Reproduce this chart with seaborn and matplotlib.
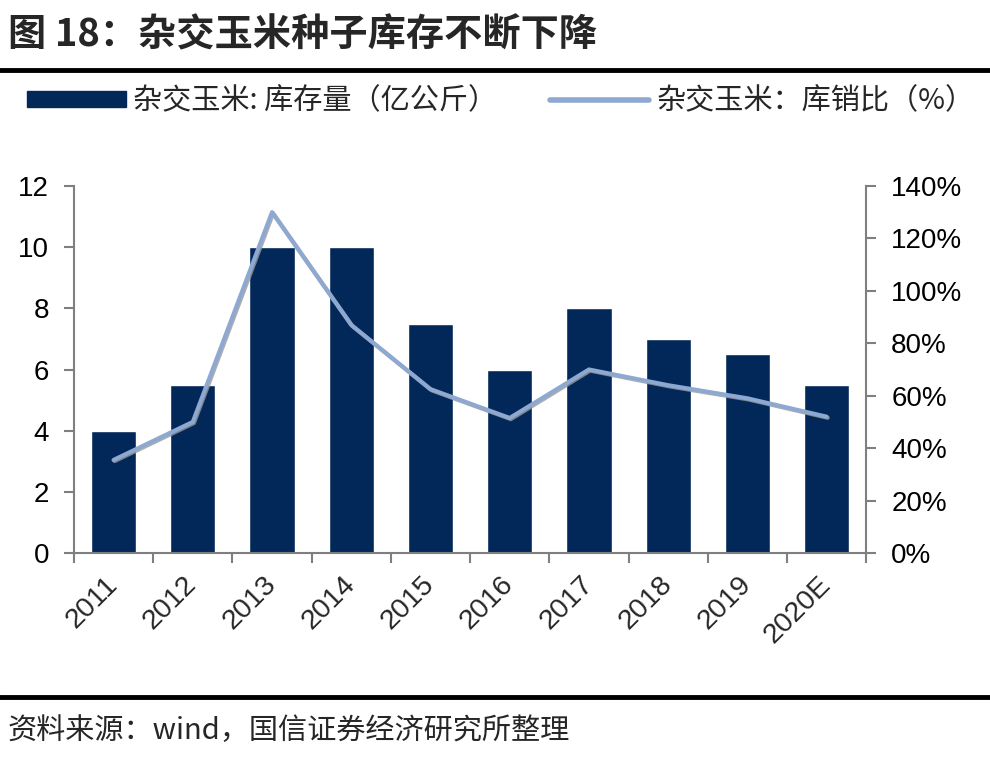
import pandas as pd
import seaborn as sns
import matplotlib.pyplot as plt
import matplotlib.patheffects as pe
from matplotlib.patches import Patch
from matplotlib.lines import Line2D

# values
years = ["2011", "2012", "2013", "2014", "2015", "2016", "2017", "2018", "2019", "2020E"]
stock = [4.0, 5.5, 10.0, 10.0, 7.5, 6.0, 8.0, 7.0, 6.5, 5.5]          # 亿公斤
ratio = [35.5, 50.0, 130.0, 87.0, 62.5, 51.5, 70.0, 64.0, 59.0, 52.0]  # %

left_ticks = [0, 2, 4, 6, 8, 10, 12]
right_ticks = [0, 20, 40, 60, 80, 100, 120, 140]

title = "图 18：杂交玉米种子库存不断下降"
bar_label = "杂交玉米: 库存量（亿公斤）"
line_label = "杂交玉米：库销比（%）"
source = "资料来源：wind，国信证券经济研究所整理"

BAR_C = "#022859"
LINE_C = "#8EA9D1"
AXIS_C = "#7f7f7f"

sns.set_theme(style="white")
plt.rcParams["font.family"] = ["Liberation Sans", "Noto Sans CJK SC"]
cjk = ["Noto Sans CJK SC", "DejaVu Sans"]

df = pd.DataFrame({"year": years, "stock": stock, "ratio": ratio})
df["pos"] = range(len(df))

fig = plt.figure(figsize=(9.9, 7.74), dpi=100)
ax = fig.add_axes([0.0747, 0.2855, 0.8003, 0.4742])

sns.barplot(data=df, x="year", y="stock", color=BAR_C, width=0.57,
            saturation=1, ax=ax)
ax.set_xlim(-0.5, len(years) - 0.5)
ax.set_ylim(0, 12)
ax.set_yticks(left_ticks)
ax.set_xlabel("")
ax.set_ylabel("")

ax2 = ax.twinx()
sns.lineplot(data=df, x="pos", y="ratio", color=LINE_C, linewidth=3, ax=ax2)
ax2.lines[0].set_path_effects([
    pe.SimpleLineShadow(offset=(0.8, -0.8), shadow_color="#9a9a9a", alpha=0.8),
    pe.Normal()])
ax2.set_ylim(0, 140)
ax2.set_yticks(right_ticks)
ax2.set_yticklabels([f"{t}%" for t in right_ticks])
ax2.set_ylabel("")
ax2.set_xlabel("")

for a in (ax, ax2):
    for s in a.spines.values():
        s.set_visible(False)
ax.spines["left"].set_visible(True)
ax.spines["bottom"].set_visible(True)
ax2.spines["right"].set_visible(True)
for s in (ax.spines["left"], ax.spines["bottom"], ax2.spines["right"]):
    s.set_color(AXIS_C)
    s.set_linewidth(1.5)

ax.tick_params(axis="y", left=True, length=7, width=1.5, color=AXIS_C,
               labelsize=20, pad=11, labelcolor="black")
ax2.tick_params(axis="y", right=True, length=7, width=1.5, color=AXIS_C,
                labelsize=20, pad=11, labelcolor="black")

# category ticks sit on boundaries, labels in the middle
ax.set_xticks([p - 0.5 for p in range(len(years) + 1)], minor=True)
ax.tick_params(axis="x", which="minor", bottom=True, length=7, width=1.5,
               color=AXIS_C)
ax.tick_params(axis="x", which="major", bottom=False, length=0, pad=20)
ax.set_xticks(range(len(years)))
ax.set_xticklabels(years, rotation=45, ha="right", va="center",
                   rotation_mode="anchor", fontsize=20.5)

handles = [Patch(facecolor=BAR_C, edgecolor=BAR_C),
           Line2D([0], [0], color=LINE_C, linewidth=4)]
fig.legend(handles, [bar_label, line_label], loc="center left",
           bbox_to_anchor=(0.027, 0.869), ncol=2, frameon=False,
           prop={"family": cjk, "size": 21}, handlelength=3.4,
           handleheight=0.45, handletextpad=0.25, columnspacing=1.8,
           borderpad=0, borderaxespad=0)

fig.text(0.008, 0.955, title, fontsize=27.5, fontweight="bold",
         family=cjk, va="center", ha="left")
fig.add_artist(Line2D([0, 1], [0.910, 0.910], color="black", linewidth=3.5,
                      transform=fig.transFigure))
fig.add_artist(Line2D([0, 1], [0.099, 0.099], color="black", linewidth=3.5,
                      transform=fig.transFigure))
fig.text(0.008, 0.055, source, fontsize=21, family=cjk, va="center",
         ha="left")

fig.savefig("out.png", dpi=100, facecolor="white")
